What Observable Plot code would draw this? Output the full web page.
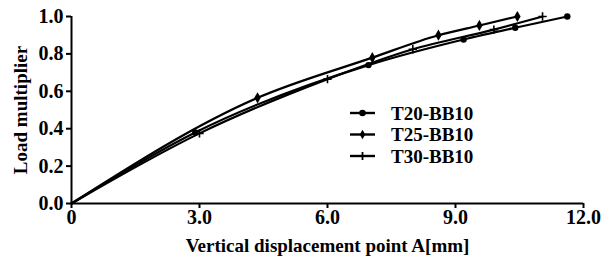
<!DOCTYPE html>
<html>
<head>
<meta charset="utf-8">
<script src="https://cdn.jsdelivr.net/npm/d3@7"></script>
<script src="https://cdn.jsdelivr.net/npm/@observablehq/plot@0.6"></script>
<style>
  body { margin: 0; background: #fff; }
  #chart svg { display: block; }
</style>
</head>
<body>
<div id="chart"></div>
<script>
const seriesNames = ["T20-BB10", "T25-BB10", "T30-BB10"];
const t20x = [0, 2.9, 6.96, 9.19, 10.4, 11.62];
const t20y = [0, 0.38, 0.74, 0.877, 0.94, 1.0];
const t25x = [0, 4.36, 7.05, 8.6, 9.56, 10.45];
const t25y = [0, 0.565, 0.78, 0.9, 0.952, 1.0];
const t30x = [0, 3.0, 6.0, 8.0, 9.9, 11.04];
const t30y = [0, 0.375, 0.665, 0.825, 0.93, 1.0];
const xTicks = [0, 3, 6, 9, 12];
const yTicks = [0, 0.2, 0.4, 0.6, 0.8, 1.0];
const symbols = ["circle", "diamond", "plus"];

const toRows = (xs, ys, name) => xs.map((x, i) => ({x, y: ys[i], series: name}));
const d20 = toRows(t20x, t20y, seriesNames[0]);
const d25 = toRows(t25x, t25y, seriesNames[1]);
const d30 = toRows(t30x, t30y, seriesNames[2]);

const font = "'Liberation Serif', 'Times New Roman', serif";

const chart = Plot.plot({
  width: 608,
  height: 265,
  marginLeft: 71,
  marginRight: 25,
  marginTop: 16,
  marginBottom: 62,
  style: {fontFamily: font, fontSize: "19px", fontWeight: "bold", color: "#000", background: "#fff"},
  x: {domain: [0, 12]},
  y: {domain: [0, 1]},
  marks: [
    Plot.axisX({ticks: xTicks, tickSize: 5, tickPadding: 1, strokeWidth: 2, fontSize: 20,
      tickFormat: d => d === 0 ? "0" : d.toFixed(1),
      label: null}),
    Plot.axisY({ticks: yTicks, tickSize: 5, tickPadding: 3, strokeWidth: 2, fontSize: 20,
      tickFormat: d => d.toFixed(1),
      label: null}),
    Plot.text(["Vertical displacement point A[mm]"], {frameAnchor: "bottom", dy: 42, fontSize: 19, fontWeight: "bold", lineAnchor: "middle"}),
    Plot.text(["Load multiplier"], {frameAnchor: "left", dx: -51, rotate: -90, fontSize: 19, fontWeight: "bold", textAnchor: "middle", lineAnchor: "middle"}),
    Plot.ruleY([0], {strokeWidth: 2}),
    Plot.ruleX([0], {strokeWidth: 2}),
    Plot.line(d20, {x: "x", y: "y", stroke: "#000", strokeWidth: 2.2, curve: "monotone-x"}),
    Plot.line(d25, {x: "x", y: "y", stroke: "#000", strokeWidth: 2.2, curve: "monotone-x"}),
    Plot.line(d30, {x: "x", y: "y", stroke: "#000", strokeWidth: 2.2, curve: "monotone-x"}),
    Plot.dot(d20.slice(1), {x: "x", y: "y", symbol: "circle", fill: "#000", r: 3.2}),
    Plot.dot(d25.slice(1), {x: "x", y: "y", symbol: "diamond", fill: "#000", r: 3.4}),
    Plot.dot(d30.slice(1), {x: "x", y: "y", symbol: "plus", stroke: "#000", strokeWidth: 1.6, r: 2.8})
  ]
});

document.getElementById("chart").appendChild(chart);

// Legend drawn into the plot's SVG
const svg = d3.select(chart);
const leg = svg.append("g").attr("transform", "translate(350,113)");
seriesNames.forEach((name, i) => {
  const g = leg.append("g").attr("transform", `translate(0,${i * 21.5})`);
  g.append("line").attr("x1", 0).attr("x2", 25).attr("stroke", "#000").attr("stroke-width", 2.4);
  const sym = symbols[i];
  if (sym === "plus") {
    g.append("line").attr("x1", 12.5).attr("x2", 12.5).attr("y1", -4).attr("y2", 4).attr("stroke", "#000").attr("stroke-width", 1.8);
  } else {
    const path = d3.symbol().type(sym === "circle" ? d3.symbolCircle : d3.symbolDiamond).size(sym === "circle" ? 34 : 26);
    g.append("path").attr("d", path()).attr("transform", "translate(12.5,0)").attr("fill", "#000");
  }
  g.append("text").attr("x", 41).attr("y", 0).attr("dy", "0.35em")
    .attr("text-anchor", "start")
    .attr("font-family", font).attr("font-size", 19).attr("font-weight", "bold").attr("fill", "#000")
    .text(name);
});
</script>
</body>
</html>
